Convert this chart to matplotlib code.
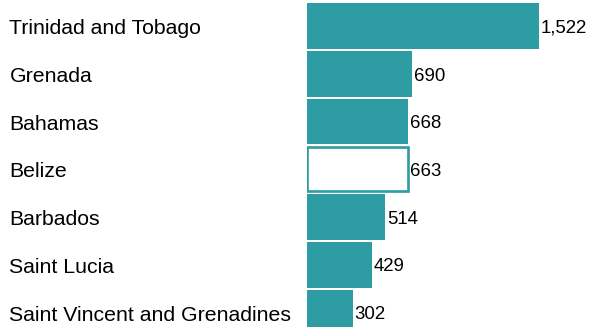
import numpy as np
import matplotlib
matplotlib.use('Agg')
import matplotlib.pyplot as plt

plt.rcParams['font.family'] = ['Liberation Sans', 'DejaVu Sans']

countries = ['Trinidad and Tobago', 'Grenada', 'Bahamas', 'Belize',
             'Barbados', 'Saint Lucia', 'Saint Vincent and Grenadines']
values = [1522, 690, 668, 663, 514, 429, 302]
highlight = 'Belize'

teal = '#2e9ca3'


def main():
    dpi = 100
    fig = plt.figure(figsize=(5.91, 3.27), dpi=dpi)
    # axes starts where the bars start
    ax = fig.add_axes([306.5 / 591, 0, 284.5 / 591, 1])
    ax.set_xlim(0, 1865)
    ax.set_ylim(6.307, -0.548)
    ax.axis('off')

    y = np.arange(len(countries))
    colors = ['white' if c == highlight else teal for c in countries]
    bars = ax.barh(y, values, height=0.958, color=colors, linewidth=0)

    # outlined bar for the highlighted country
    for b, c in zip(bars, countries):
        if c == highlight:
            b.set_edgecolor(teal)
            b.set_linewidth(1.9)
            b.set_height(0.915)
            b.set_y(b.get_y() + 0.0215)
            b.set_width(b.get_width() - 4)
            b.set_x(b.get_x() + 6)

    for yi, c, v in zip(y, countries, values):
        ax.annotate(c, xy=(9.5 / 591, yi), xycoords=('figure fraction', 'data'),
                    xytext=(0, -5.9), textcoords='offset points',
                    ha='left', va='baseline', fontsize=15.3, color='black')
        ax.annotate(f'{v:,}', xy=(v, yi), xycoords='data',
                    xytext=(1.5, -4.8), textcoords='offset points',
                    ha='left', va='baseline', fontsize=13.4, color='black')

    fig.savefig('out.png', dpi=dpi)


if __name__ == '__main__':
    main()
